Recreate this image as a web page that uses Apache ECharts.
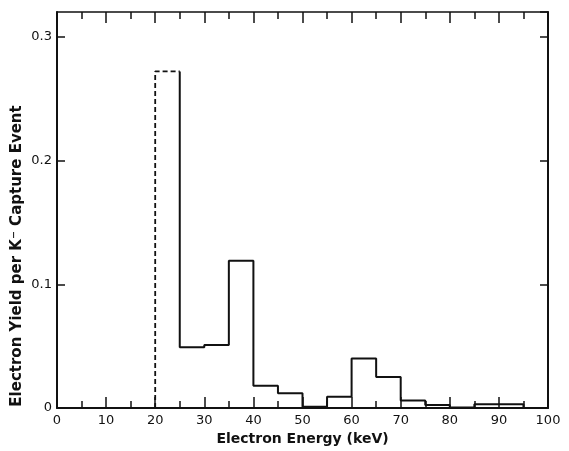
<!DOCTYPE html>
<html>
<head>
<meta charset="utf-8">
<script src="https://cdn.jsdelivr.net/npm/echarts@6/dist/echarts.min.js"></script>
<style>
  html, body { margin: 0; padding: 0; background: #fff; }
  #main { width: 569px; height: 451px; }
</style>
</head>
<body>
<div id="main"></div>
<script>
// bin left edges (keV), each bin 5 keV wide
var binStarts = [20, 25, 30, 35, 40, 45, 50, 55, 60, 65, 70, 75, 80, 85, 90, 95];
var binWidth = 5;
// electron yield per K- capture event
var yields = [0.272, 0.049, 0.051, 0.119, 0.018, 0.012, 0.001, 0.009, 0.040, 0.025, 0.006, 0.0025, 0.0005, 0.003, 0.003, 0.0];
var yTicks = [0, 0.1, 0.2, 0.3];

var dom = document.getElementById('main');
var myChart = echarts.init(dom);

// first bin is drawn dashed
var dashed = [
    [binStarts[0], 0],
    [binStarts[0], yields[0]],
    [binStarts[0] + binWidth, yields[0]]
];
// remaining bins as one solid step outline
var solid = [];
for (var i = 1; i < binStarts.length; i++) {
    solid.push([binStarts[i], yields[i - 1]]);
    solid.push([binStarts[i], yields[i]]);
    solid.push([binStarts[i] + binWidth, yields[i]]);
}

var font = 'DejaVu Sans';
var lineCol = '#111';

var option = {
    animation: false,
    backgroundColor: '#fff',
    grid: { left: 57, right: 21, top: 12, bottom: 40 },
    // y title sits lower than the axis middle in the original
    graphic: [{
        type: 'text',
        x: 17, y: 256,
        rotation: Math.PI / 2,
        style: {
            text: 'Electron Yield per K\u207B Capture Event',
            fontFamily: font, fontSize: 15, fontWeight: 'bold', fill: lineCol,
            align: 'center', verticalAlign: 'middle'
        }
    }],
    xAxis: [
        {
            type: 'value', min: 0, max: 100, interval: 10, position: 'bottom',
            name: 'Electron Energy (keV)', nameLocation: 'middle', nameGap: 24,
            nameTextStyle: { fontFamily: font, fontSize: 14, fontWeight: 'bold', color: lineCol },
            axisLine: { show: true, onZero: false, lineStyle: { color: lineCol, width: 2 } },
            axisTick: { inside: true, length: 11, lineStyle: { color: lineCol, width: 1.5 } },
            minorTick: { show: true, splitNumber: 2, length: 7, lineStyle: { color: lineCol, width: 1.5 } },
            axisLabel: { fontFamily: font, fontSize: 13, color: lineCol, margin: 6 },
            splitLine: { show: false }
        },
        {
            type: 'value', min: 0, max: 100, interval: 10, position: 'top',
            axisLine: { show: true, onZero: false, lineStyle: { color: lineCol, width: 1.5 } },
            axisTick: { inside: true, length: 11, lineStyle: { color: lineCol, width: 1.5 } },
            minorTick: { show: true, splitNumber: 2, length: 7, lineStyle: { color: lineCol, width: 1.5 } },
            axisLabel: { show: false },
            splitLine: { show: false }
        }
    ],
    yAxis: [
        {
            type: 'value', min: 0, max: 0.32, interval: 0.1, position: 'left',
            axisLine: { show: true, onZero: false, lineStyle: { color: lineCol, width: 2 } },
            axisTick: { inside: true, length: 8, lineStyle: { color: lineCol, width: 1.5 } },
            axisLabel: {
                fontFamily: font, fontSize: 13, color: lineCol, margin: 5,
                showMaxLabel: false,
                formatter: function (v) {
                    for (var k = 0; k < yTicks.length; k++) {
                        if (Math.abs(v - yTicks[k]) < 1e-9) return String(yTicks[k]);
                    }
                    return '';
                }
            },
            splitLine: { show: false }
        },
        {
            type: 'value', min: 0, max: 0.32, interval: 0.1, position: 'right',
            axisLine: { show: true, onZero: false, lineStyle: { color: lineCol, width: 2 } },
            axisTick: { inside: true, length: 8, lineStyle: { color: lineCol, width: 1.5 } },
            axisLabel: { show: false },
            splitLine: { show: false }
        }
    ],
    series: [
        {
            type: 'line', data: dashed, symbol: 'none',
            lineStyle: { color: lineCol, width: 1.8, type: [5, 3] }
        },
        {
            type: 'line', data: solid, symbol: 'none',
            lineStyle: { color: lineCol, width: 2 }
        }
    ]
};

myChart.setOption(option);
</script>
</body>
</html>
